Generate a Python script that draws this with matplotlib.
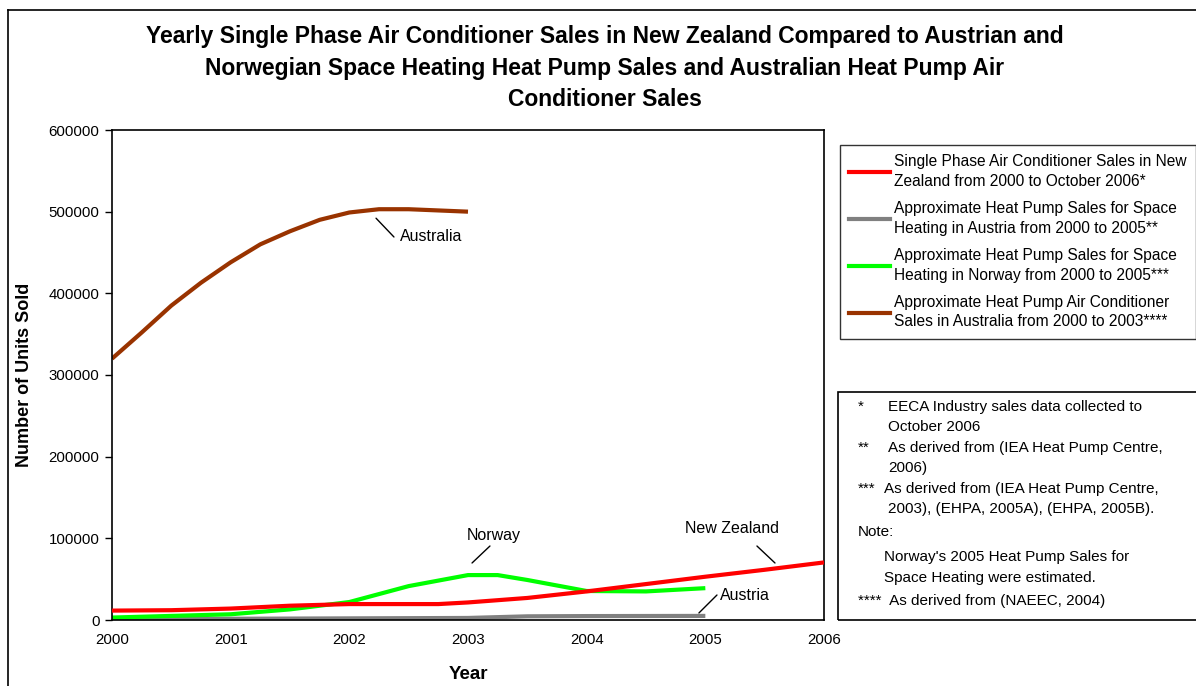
import matplotlib
matplotlib.use("Agg")
import matplotlib.pyplot as plt
from matplotlib.patches import Rectangle
from matplotlib.lines import Line2D

plt.rcParams['font.family'] = ['Liberation Sans', 'DejaVu Sans']

# ---- data ----
nz_years = [2000, 2000.5, 2001, 2001.5, 2002, 2002.5, 2002.75, 2003, 2003.5, 2004, 2004.5, 2005, 2005.5, 2006]
nz_sales = [11500, 12000, 14000, 17500, 19500, 19500, 19500, 21500, 27000, 35000, 44000, 53000, 61500, 70500]

at_years = [2000, 2001, 2002, 2003, 2003.5, 2004, 2005]
at_sales = [1000, 1500, 2000, 2500, 4500, 4800, 5000]

no_years = [2000, 2001, 2001.5, 2002, 2002.5, 2003, 2003.25, 2003.5, 2004, 2004.5, 2005]
no_sales = [3000, 7000, 13000, 22000, 41500, 55000, 55000, 49000, 35500, 35000, 39000]

au_years = [2000, 2000.25, 2000.5, 2000.75, 2001, 2001.25, 2001.5, 2001.75, 2002, 2002.25, 2002.5, 2002.75, 2003]
au_sales = [320000, 352000, 385000, 413000, 438000, 460000, 476000, 490000, 499000, 503000, 503000, 501500, 500000]

labels = ["Single Phase Air Conditioner Sales in New\nZealand from 2000 to October 2006*",
          "Approximate Heat Pump Sales for Space\nHeating in Austria from 2000 to 2005**",
          "Approximate Heat Pump Sales for Space\nHeating in Norway from 2000 to 2005***",
          "Approximate Heat Pump Air Conditioner\nSales in Australia from 2000 to 2003****"]
colors = ['#ff0000', '#808080', '#00ff00', '#993300']

title = ("Yearly Single Phase Air Conditioner Sales in New Zealand Compared to Austrian and\n"
         "Norwegian Space Heating Heat Pump Sales and Australian Heat Pump Air\n"
         "Conditioner Sales")

# name, text position, text alignment, leader line (from, to)
series_tags = [
    ("Australia", (2002.43, 470000), 'left', (2002.225, 492000), (2002.376, 469000)),
    ("Norway", (2003.22, 103000), 'center', (2003.034, 69800), (2003.185, 90600)),
    ("New Zealand", (2005.225, 112600), 'center', (2005.587, 69800), (2005.435, 90600)),
    ("Austria", (2005.125, 29400), 'left', (2004.946, 8600), (2005.098, 30600)),
]

W, H = 1196, 686
fig = plt.figure(figsize=(W / 100, H / 100), dpi=100)
ax = fig.add_axes([112 / W, 1 - 620 / H, (824 - 112) / W, (620 - 130) / H])

lw = 3.0
ax.plot(nz_years, nz_sales, color=colors[0], lw=lw, solid_capstyle='butt', zorder=3)
ax.plot(at_years, at_sales, color=colors[1], lw=lw, solid_capstyle='butt', zorder=2)
ax.plot(no_years, no_sales, color=colors[2], lw=lw, solid_capstyle='butt', zorder=2)
ax.plot(au_years, au_sales, color=colors[3], lw=lw, solid_capstyle='butt', zorder=2)

ax.set_xlim(2000, 2006)
ax.set_ylim(0, 600000)
ax.set_xticks(range(2000, 2007))
ax.set_yticks(range(0, 600001, 100000))
ax.tick_params(axis='y', direction='out', length=5, width=1, labelsize=10.8, pad=4)
ax.tick_params(axis='x', length=0, labelsize=10.8, pad=9)
for s in ax.spines.values():
    s.set_linewidth(1.2)
    s.set_color('black')

ax.set_xlabel("Year", fontsize=13.5, fontweight='bold', labelpad=14)
ax.set_ylabel("Number of Units Sold", fontsize=13, fontweight='bold', labelpad=11)

for name, tpos, ha, p0, p1 in series_tags:
    ax.annotate("", xy=p0, xytext=p1,
                arrowprops=dict(arrowstyle='-', color='black', lw=1, shrinkA=0, shrinkB=0))
    ax.text(tpos[0], tpos[1], name, fontsize=11.5, ha=ha, va='center')

fig.text(605 / W, 1 - 25 / H, title, ha='center', va='top', fontsize=16.5,
         fontweight='bold', linespacing=1.48)

# outer chart border (only top and left visible)
fig.add_artist(Line2D([8 / W, 8 / W], [0, 1 - 10 / H], transform=fig.transFigure, color='black', lw=1.2))
fig.add_artist(Line2D([8 / W, 1], [1 - 10 / H, 1 - 10 / H], transform=fig.transFigure, color='black', lw=1.2))

# legend
handles = [Line2D([], [], color=c, lw=3) for c in colors]
leg = fig.legend(handles, labels, loc='upper left', bbox_to_anchor=(840 / W, 1 - 145 / H),
                 fontsize=11.2, frameon=True, fancybox=False, edgecolor='black',
                 handlelength=2.6, handletextpad=0.25, labelspacing=0.77,
                 borderpad=0.6, borderaxespad=0)
leg.get_frame().set_linewidth(1.0)
for t in leg.get_texts():
    t.set_linespacing(1.4)

# notes box
fig.add_artist(Rectangle((838 / W, 1 - 620 / H), (1200 - 838) / W, (620 - 392) / H,
                         transform=fig.transFigure, fill=False, edgecolor='black', lw=1.2))
notes = [
    (858, 407, "*"), (888, 407, "EECA Industry sales data collected to"),
    (888, 427, "October 2006"),
    (858, 448, "**"), (888, 448, "As derived from (IEA Heat Pump Centre,"),
    (888, 468, "2006)"),
    (858, 489, "***"), (884, 489, "As derived from (IEA Heat Pump Centre,"),
    (888, 509, "2003), (EHPA, 2005A), (EHPA, 2005B)."),
    (858, 532, "Note:"),
    (884, 557, "Norway's 2005 Heat Pump Sales for"),
    (884, 578, "Space Heating were estimated."),
    (858, 601, "****  As derived from (NAEEC, 2004)"),
]
for x, y, t in notes:
    fig.text(x / W, 1 - y / H, t, ha='left', va='center', fontsize=11)

fig.savefig("out.png", dpi=100)
